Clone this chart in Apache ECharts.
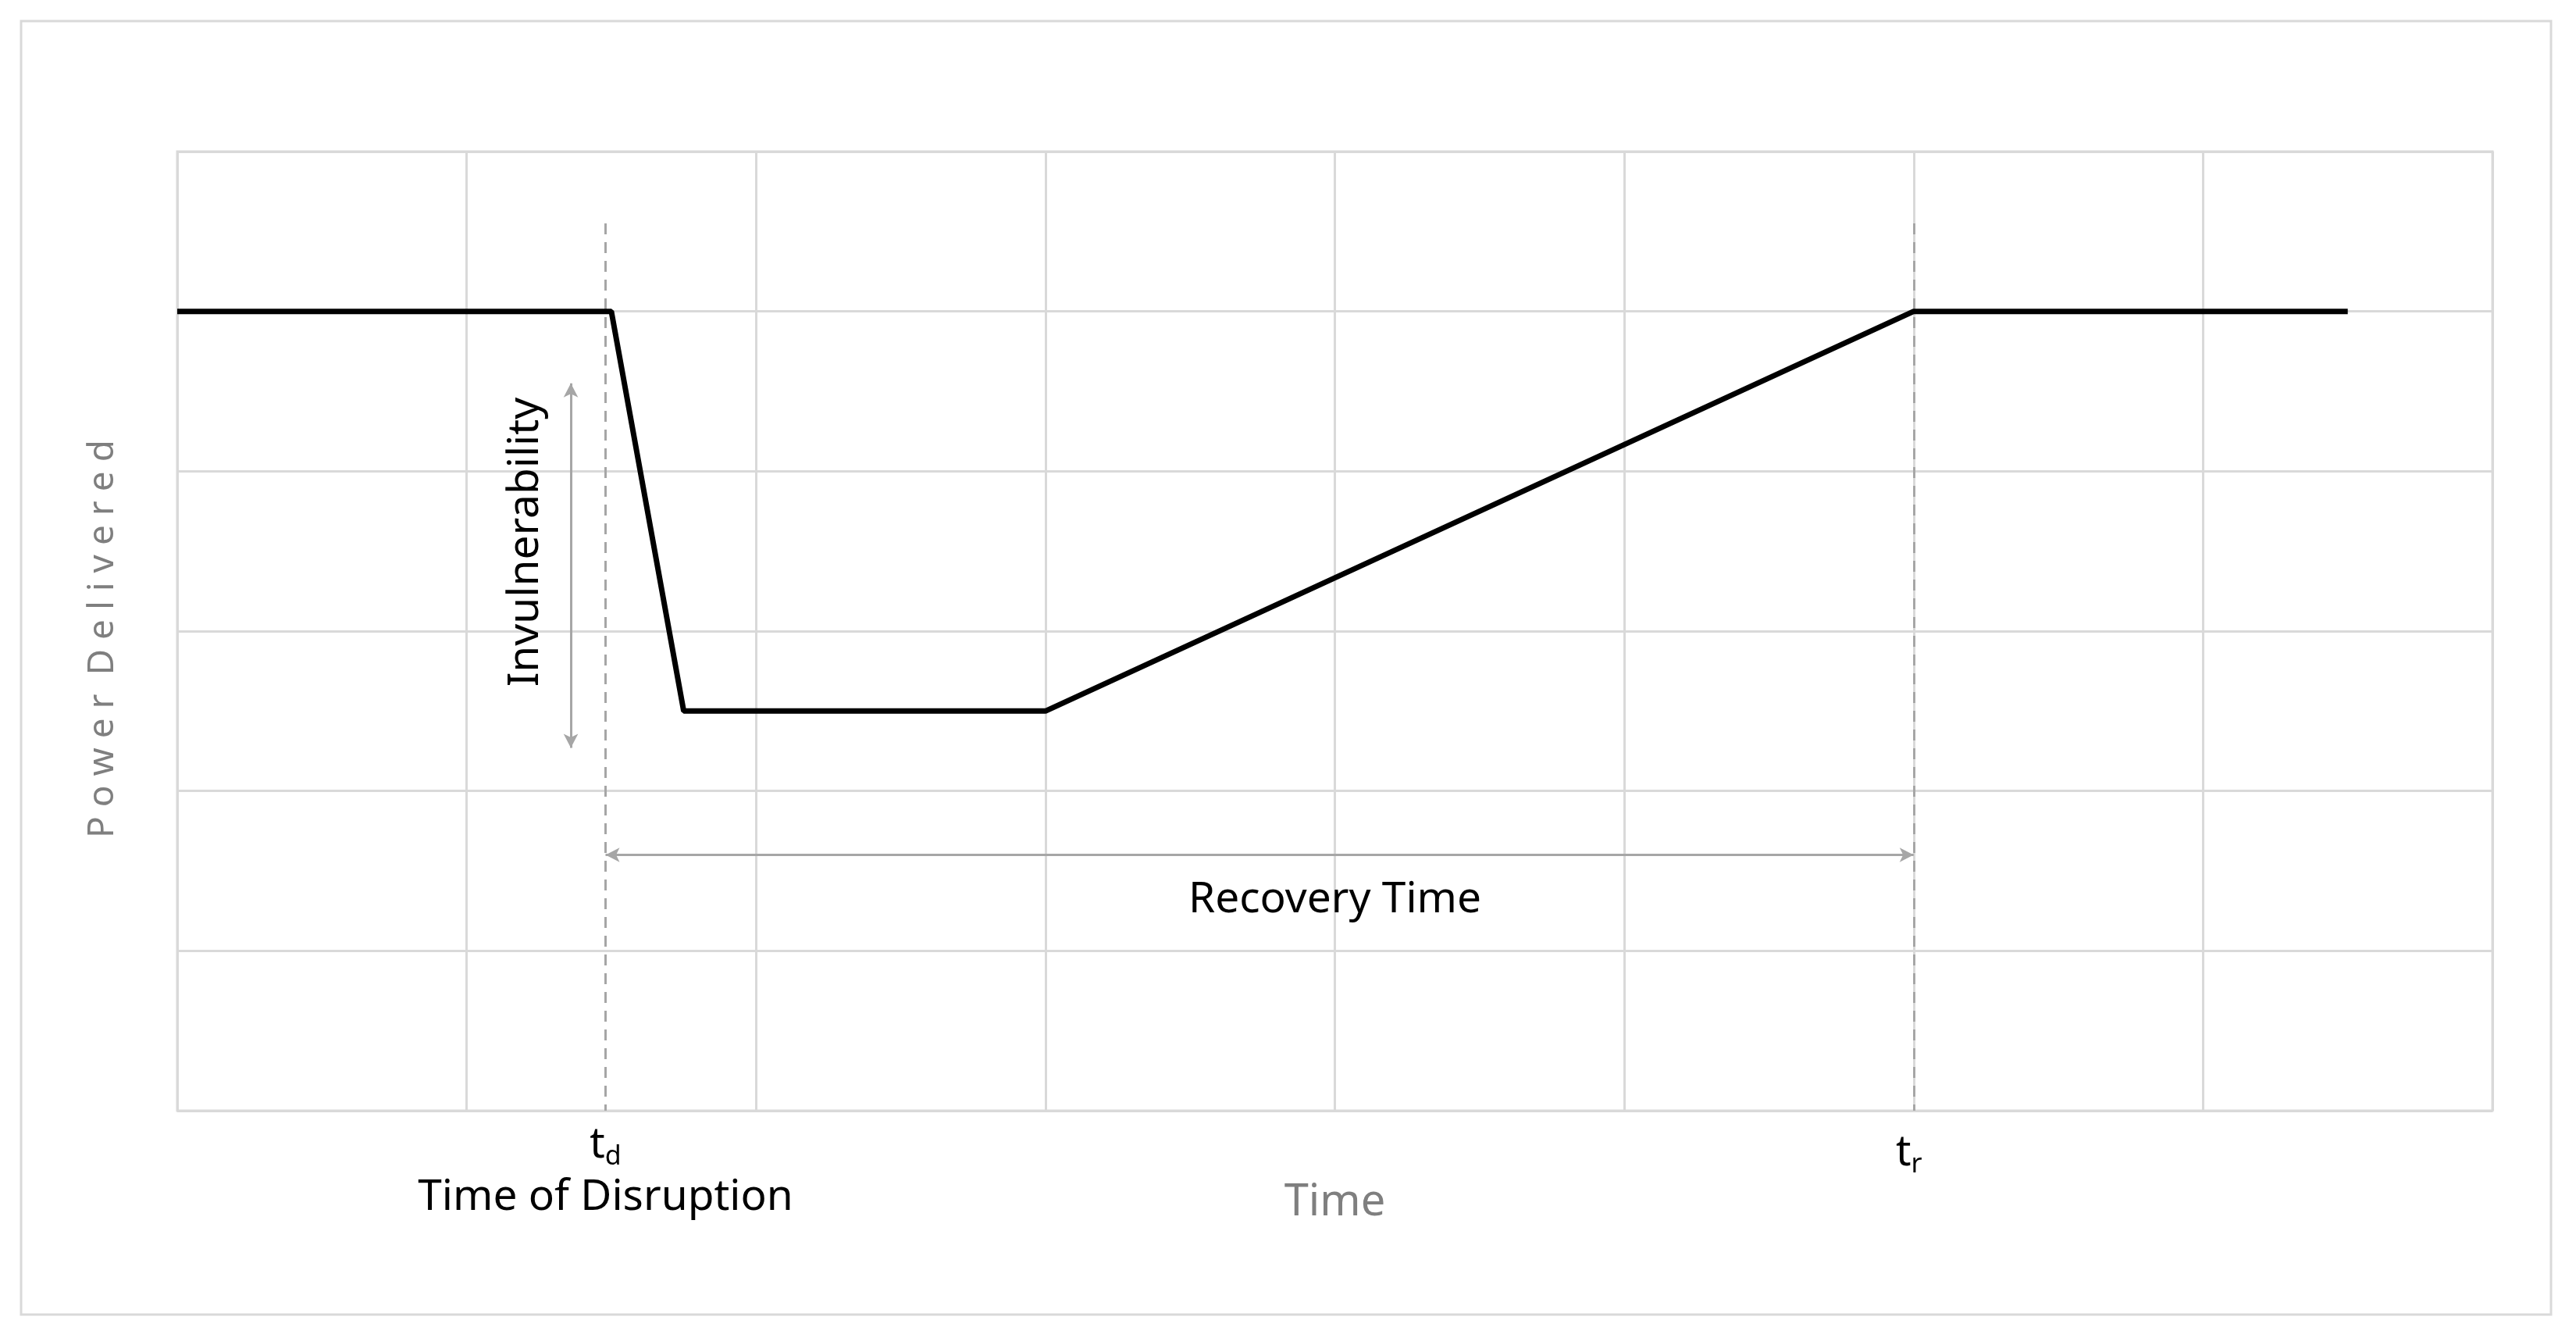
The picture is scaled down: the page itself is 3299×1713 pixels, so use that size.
<!DOCTYPE html>
<html>
<head>
<meta charset="utf-8">
<script src="https://cdn.jsdelivr.net/npm/echarts@6/dist/echarts.min.js"></script>
<style>
  html, body { margin: 0; padding: 0; background: #fff; }
  #main { width: 3299px; height: 1713px; }
</style>
</head>
<body>
<div id="main"></div>
<script>
// power delivered over time (x in grid units, y in grid units)
var timePoints = [0, 1.5, 1.75, 3.0, 6.0, 7.5];
var powerValues = [5, 5, 2.5, 2.5, 5, 5];
var disruptionTime = 1.48;
var recoveredTime = 6.0;
var dashTop = 5.55;
var invulnX = 1.36;
var invulnRange = [4.55, 2.27];
var recoveryY = 1.6;

var FONT = 'Noto Sans';
var chart = echarts.init(document.getElementById('main'));

var lineData = timePoints.map(function (t, i) { return [t, powerValues[i]]; });

var option = {
    animation: false,
    backgroundColor: '#fff',
    grid: { left: 227, right: 107, top: 194, bottom: 291 },
    xAxis: {
        type: 'value', min: 0, max: 8, interval: 1,
        axisLine: { show: false }, axisTick: { show: false }, axisLabel: { show: false },
        splitLine: { show: true, lineStyle: { color: '#d9d9d9', width: 3 } }
    },
    yAxis: {
        type: 'value', min: 0, max: 6, interval: 1,
        axisLine: { show: false }, axisTick: { show: false }, axisLabel: { show: false },
        splitLine: { show: true, lineStyle: { color: '#d9d9d9', width: 3 } }
    },
    series: [
        {
            type: 'line', data: lineData, symbol: 'none',
            lineStyle: { color: '#000', width: 7 }, z: 5
        },
        {
            type: 'line', data: [], symbol: 'none',
            markLine: {
                silent: true, symbol: ['none', 'none'], label: { show: false },
                lineStyle: { color: '#a6a6a6', width: 3, type: [14, 10] },
                data: [
                    [{ coord: [disruptionTime, dashTop] }, { coord: [disruptionTime, 0] }],
                    [{ coord: [recoveredTime, dashTop] }, { coord: [recoveredTime, 0] }]
                ]
            }
        },
        {
            type: 'line', data: [], symbol: 'none',
            markLine: {
                silent: true, symbol: ['arrow', 'arrow'], symbolSize: [14, 18], label: { show: false },
                lineStyle: { color: '#a6a6a6', width: 3, type: 'solid' },
                data: [
                    [{ coord: [invulnX, invulnRange[0]] }, { coord: [invulnX, invulnRange[1]] }],
                    [{ coord: [disruptionTime, recoveryY] }, { coord: [recoveredTime, recoveryY] }]
                ]
            }
        }
    ]
};
chart.setOption(option);

function px(x, y) { return chart.convertToPixel({ gridIndex: 0 }, [x, y]); }

var pTd = px(disruptionTime, 0);
var pTr = px(recoveredTime, 0);
var pInv = px(invulnX, (invulnRange[0] + invulnRange[1]) / 2);
var pRec = px(4, recoveryY);
var pMid = px(4, 0);
var pLeft = px(0, 3);

chart.setOption({
    graphic: [
        { type: 'rect', shape: { x: 27, y: 27, width: 3240, height: 1656 }, style: { fill: 'none', stroke: '#d9d9d9', lineWidth: 3 }, z: 0 },
        { type: 'rect', shape: { x: 227, y: 194, width: 2965, height: 1228 }, style: { fill: 'none', stroke: '#d9d9d9', lineWidth: 3 }, z: 1 },
        {
            type: 'text', x: pTd[0], y: pTd[1] + 14,
            style: { text: '{t|t}{s|d}', align: 'center', verticalAlign: 'top',
                rich: { t: { fontFamily: FONT, fontSize: 54, fill: '#000' }, s: { fontFamily: FONT, fontSize: 34, fill: '#000', padding: [28, 0, 0, 0] } } }
        },
        {
            type: 'text', x: pTd[0], y: pTd[1] + 84,
            style: { text: 'Time of Disruption', align: 'center', verticalAlign: 'top', fontFamily: FONT, fontSize: 55, fill: '#000' }
        },
        {
            type: 'text', x: pTr[0] - 6, y: pTr[1] + 24,
            style: { text: '{t|t}{s|r}', align: 'center', verticalAlign: 'top',
                rich: { t: { fontFamily: FONT, fontSize: 54, fill: '#000' }, s: { fontFamily: FONT, fontSize: 34, fill: '#000', padding: [28, 0, 0, 0] } } }
        },
        {
            type: 'text', x: pMid[0], y: pMid[1] + 90,
            style: { text: 'Time', align: 'center', verticalAlign: 'top', fontFamily: FONT, fontSize: 56, fill: '#7f7f7f' }
        },
        {
            type: 'text', x: pRec[0], y: pRec[1] + 30,
            style: { text: 'Recovery Time', align: 'center', verticalAlign: 'top', fontFamily: FONT, fontSize: 55, fill: '#000' }
        },
        {
            type: 'text', x: pInv[0] - 58, y: pInv[1] - 30, rotation: Math.PI / 2,
            style: { text: 'Invulnerability', align: 'center', verticalAlign: 'middle', fontFamily: FONT, fontSize: 55, fill: '#000' }
        },
        {
            type: 'text', x: 132, y: pLeft[1] + 10, rotation: Math.PI / 2,
            style: { text: 'P o w e r  D e l i v e r e d', align: 'center', verticalAlign: 'middle', fontFamily: FONT, fontSize: 46, fill: '#7f7f7f' }
        }
    ]
});
</script>
</body>
</html>
